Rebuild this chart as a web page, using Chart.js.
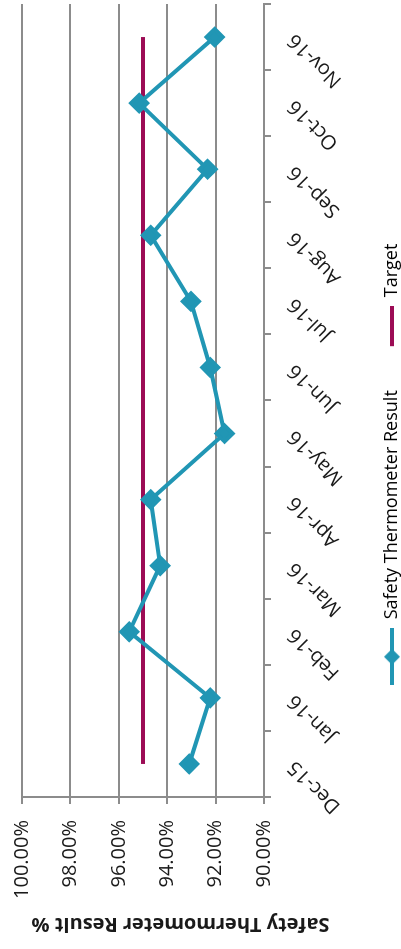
<!DOCTYPE html>
<html>
<head>
<meta charset="utf-8">
<script src="https://cdn.jsdelivr.net/npm/chart.js@4.4.0/dist/chart.umd.min.js"></script>
<style>
  body { margin: 0; overflow: hidden; background: #fff; }
  #wrap { position: absolute; left: 0; top: 0; width: 949px; height: 401px;
          transform-origin: 0 0; transform: translate(0px, 949px) rotate(-90deg); }
</style>
</head>
<body>
<div id="wrap"><canvas id="myChart" width="949" height="401"></canvas></div>
<script>
var months = ['Dec-15', 'Jan-16', 'Feb-16', 'Mar-16', 'Apr-16', 'May-16', 'Jun-16', 'Jul-16', 'Aug-16', 'Sep-16', 'Oct-16', 'Nov-16'];
var results = [93.09, 92.22, 95.57, 94.29, 94.68, 91.63, 92.22, 93.02, 94.68, 92.33, 95.16, 92.04];
var target = [95, 95, 95, 95, 95, 95, 95, 95, 95, 95, 95, 95];
var yTicks = [90, 92, 94, 96, 98, 100];

var teal = '#2196b4';
var plum = '#9c0c55';
var grey = '#8c8c8c';

// legend keys: a short line, with a diamond for the result series
function makeKey(color, from, diamond) {
	var c = document.createElement('canvas');
	c.width = 57; c.height = 20;
	var g = c.getContext('2d');
	g.strokeStyle = color;
	g.lineWidth = 4;
	g.beginPath(); g.moveTo(from, 10); g.lineTo(57, 10); g.stroke();
	if (diamond) {
		g.fillStyle = color;
		g.beginPath(); g.moveTo(28.5, 2); g.lineTo(36.5, 10); g.lineTo(28.5, 18); g.lineTo(20.5, 10); g.closePath(); g.fill();
	}
	return c;
}
var keys = [makeKey(teal, 0, true), makeKey(plum, 17, false)];

function noPad(scale) {
	scale.paddingLeft = 0; scale.paddingRight = 0; scale.paddingTop = 0; scale.paddingBottom = 0;
}

var nudge = {
	id: 'nudge',
	afterLayout: function(chart) {
		// the original centres the axis title and legend off the plot centre
		chart.titleBlock.top -= 31; chart.titleBlock.bottom -= 31;
		chart.legend.left += 12; chart.legend.right += 12;
		chart.legend.top += 10; chart.legend.bottom += 10;
	}
};

Chart.defaults.font.family = "'Open Sans', sans-serif";
Chart.defaults.color = '#1a1a1a';

var ctx = document.getElementById('myChart').getContext('2d');
var chart = new Chart(ctx, {
	type: 'line',
	data: {
		labels: months,
		datasets: [{
			label: 'Safety Thermometer Result',
			data: results,
			borderColor: teal,
			backgroundColor: teal,
			borderWidth: 4,
			pointStyle: 'rectRot',
			pointRadius: 8,
			pointBackgroundColor: teal,
			pointBorderColor: teal,
			tension: 0
		}, {
			label: 'Target',
			data: target,
			borderColor: plum,
			backgroundColor: plum,
			borderWidth: 4,
			pointRadius: 0,
			tension: 0
		}]
	},
	options: {
		responsive: false,
		animation: false,
		layout: { autoPadding: false, padding: { top: 22, right: 4, left: 0, bottom: 0 } },
		scales: {
			x: {
				offset: true,
				afterFit: function(scale) { noPad(scale); scale.height = 82; },
				grid: { display: true, drawOnChartArea: false, offset: true, color: grey, lineWidth: 2, tickLength: 7 },
				border: { color: grey, width: 2 },
				ticks: { autoSkip: false, minRotation: 45, maxRotation: 45, padding: 12, font: { size: 20 } }
			},
			y: {
				min: 90,
				max: 100,
				afterBuildTicks: function(scale) { scale.ticks = yTicks.map(function(v){ return { value: v }; }); },
				afterFit: function(scale) { noPad(scale); scale.width = 115; },
				grid: { color: grey, lineWidth: 2, tickLength: 7 },
				border: { color: grey, width: 2 },
				ticks: { padding: 16, font: { size: 20 }, callback: function(v) { return v.toFixed(2) + '%'; } }
			}
		},
		plugins: {
			title: {
				display: true,
				position: 'left',
				text: 'Safety Thermometer Result %',
				color: '#1a1a1a',
				font: { size: 20, weight: 'bold' },
				padding: { top: 13, bottom: 0 }
			},
			legend: {
				position: 'bottom',
				labels: {
					usePointStyle: true,
					pointStyleWidth: 57,
					boxHeight: 20,
					padding: 27,
					font: { size: 18 },
					generateLabels: function(chart) {
						return chart.data.datasets.map(function(ds, i) {
							return { text: ds.label, pointStyle: keys[i], datasetIndex: i, lineWidth: 0, strokeStyle: 'transparent', fillStyle: 'transparent' };
						});
					}
				}
			},
			tooltip: { enabled: false }
		}
	},
	plugins: [nudge]
});
</script>
</body>
</html>
